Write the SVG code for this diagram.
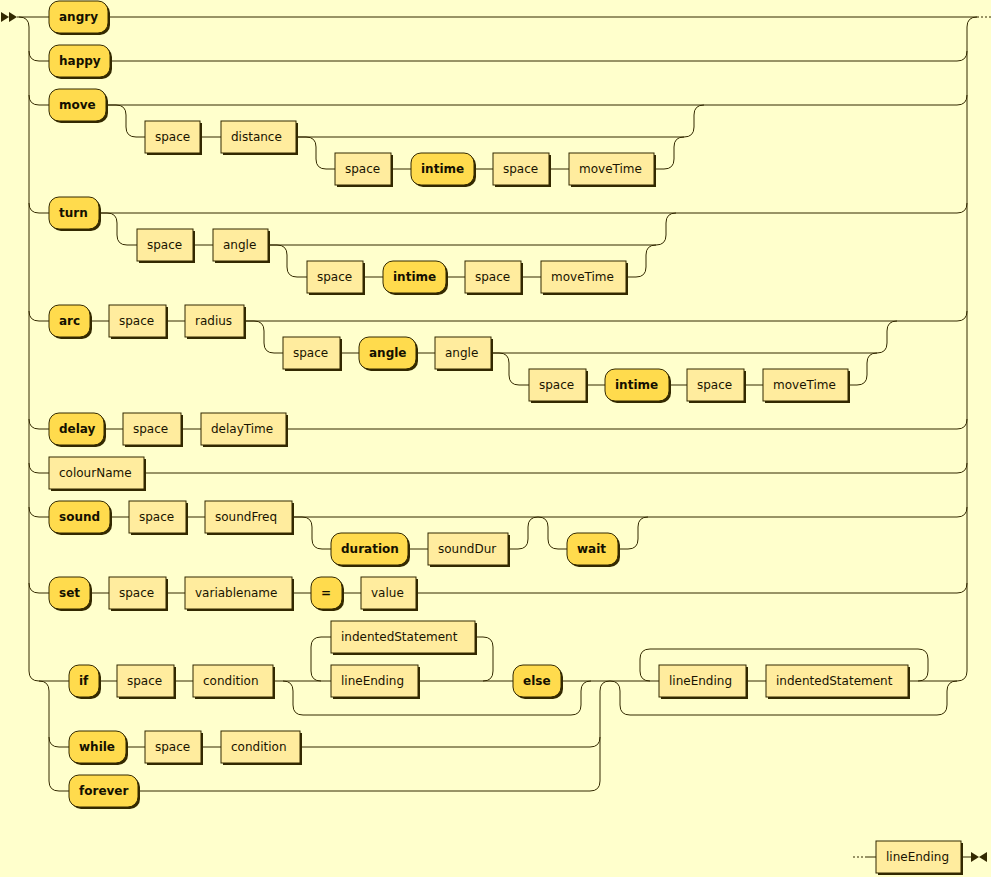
<svg xmlns="http://www.w3.org/2000/svg" width="991" height="877" viewBox="0 0 991 877">
<style>
.bg{fill:#FFFFCC}
.ln{fill:none;stroke:#332900;stroke-width:1}
.dash{fill:none;stroke:#332900;stroke-width:1;stroke-dasharray:2 2}
.sh{fill:#332900}
.t{fill:#FFDB4D;stroke:#332900;stroke-width:1}
.n{fill:#FFEC9E;stroke:#332900;stroke-width:1}
.tt{font-family:"DejaVu Sans",Verdana,sans-serif;font-size:12px;font-weight:bold;fill:#141000}
.nt{font-family:"DejaVu Sans",Verdana,sans-serif;font-size:12px;fill:#1A1400}
.mk{fill:#332900}
</style>
<rect class="bg" x="0" y="0" width="991" height="877"/>
<g id="connectors">
<polygon class="mk" points="9 17 1 12 1 22"/>
<polygon class="mk" points="17 17 9 12 9 22"/>
<path class="ln" d="M17 17 H49 M19 17 q10 0 10 10 V671 q0 10 10 10 h30"/>
<path class="ln" d="M29 51 q0 10 10 10 h10 M29 95 q0 10 10 10 h10 M29 203 q0 10 10 10 h10 M29 311 q0 10 10 10 h10 M29 419 q0 10 10 10 h10 M29 463 q0 10 10 10 h10 M29 507 q0 10 10 10 h10 M29 583 q0 10 10 10 h10"/>
<path class="ln" d="M108 17 H977 M967 671 V27 q0 -10 10 -10"/>
<path class="dash" d="M977 17 H991"/>
<path class="ln" d="M957 61 q10 0 10 -10 M957 105 q10 0 10 -10 M957 213 q10 0 10 -10 M957 321 q10 0 10 -10 M957 429 q10 0 10 -10 M957 473 q10 0 10 -10 M957 517 q10 0 10 -10 M957 593 q10 0 10 -10 M957 681 q10 0 10 -10"/>
<path class="ln" d="M110 61 H957"/>
<path class="ln" d="M106 105 H957 M106 105 h10 q10 0 10 10 v12 q0 10 10 10 h9 M200 137 h21 M296 137 H684 q10 0 10 -10 v-12 q0 -10 10 -10 M296 137 h10 q10 0 10 10 v12 q0 10 10 10 h9 M391 169 h20 M474 169 h19 M549 169 h20 M654 169 h10 q10 0 10 -10 v-12 q0 -10 10 -10"/>
<path class="ln" d="M99 213 H957 M99 213 h8 q10 0 10 10 v12 q0 10 10 10 h10 M193 245 h20 M268 245 H656 q10 0 10 -10 v-12 q0 -10 10 -10 M268 245 h9 q10 0 10 10 v12 q0 10 10 10 h10 M363 277 h20 M446 277 h19 M521 277 h20 M626 277 h10 q10 0 10 -10 v-12 q0 -10 10 -10"/>
<path class="ln" d="M90 321 h19 M166 321 h19 M244 321 H957 M244 321 h10 q10 0 10 10 v12 q0 10 10 10 h9 M340 353 h19 M416 353 h19 M491 353 H877 q10 0 10 -10 v-12 q0 -10 10 -10 M491 353 h8 q10 0 10 10 v12 q0 10 10 10 h10 M586 385 h19 M669 385 h18 M744 385 h19 M848 385 h9 q10 0 10 -10 v-12 q0 -10 10 -10"/>
<path class="ln" d="M104 429 h19 M181 429 h20 M286 429 H957"/>
<path class="ln" d="M144 473 H957"/>
<path class="ln" d="M110 517 h19 M186 517 h19 M292 517 H957 M292 517 h10 q10 0 10 10 v12 q0 10 10 10 h9 M408 549 h20 M508 549 h10 q10 0 10 -10 v-12 q0 -10 10 -10 M538 517 q10 0 10 10 v12 q0 10 10 10 h9 M618 549 h10 q10 0 10 -10 v-12 q0 -10 10 -10"/>
<path class="ln" d="M90 593 h19 M166 593 h19 M292 593 h19 M342 593 h19 M416 593 H957"/>
<path class="ln" d="M39 681 q10 0 10 10 V781 q0 10 10 10 h10 M49 737 q0 10 10 10 h10"/>
<path class="ln" d="M99 681 h18 M174 681 h19 M273 681 H331 M321 681 q-10 0 -10 -10 v-24 q0 -10 10 -10 h10 M418 681 H513 M475 637 h8 q10 0 10 10 v24 q0 10 -10 10 M561 681 H659 M283 681 q10 0 10 10 v14 q0 10 10 10 H571 q10 0 10 -10 v-14 q0 -10 10 -10"/>
<path class="ln" d="M126 747 h19 M201 747 h20 M300 747 H590 q10 0 10 -10 M138 791 H590 q10 0 10 -10 V691 q0 -10 10 -10"/>
<path class="ln" d="M610 681 q10 0 10 10 v14 q0 10 10 10 H937 q10 0 10 -10 v-14 q0 -10 10 -10 M746 681 h20 M908 681 H957 M918 681 q10 0 10 -10 v-12 q0 -10 -10 -10 H650 q-10 0 -10 10 v12 q0 10 10 10"/>
<path class="dash" d="M853 857 h13"/>
<path class="ln" d="M866 857 h10 M961 857 h10"/>
<polygon class="mk" points="979 857 971 852 971 862"/>
<polygon class="mk" points="979 857 987 852 987 862"/>
</g>
<g id="n1"><rect class="sh" x="51" y="3" width="59" height="32" rx="10"/><rect class="t" x="49" y="1" width="59" height="32" rx="10"/><text class="tt" x="59" y="21">angry</text></g>
<g id="n2"><rect class="sh" x="51" y="47" width="61" height="32" rx="10"/><rect class="t" x="49" y="45" width="61" height="32" rx="10"/><text class="tt" x="59" y="65">happy</text></g>
<g id="n3"><rect class="sh" x="51" y="91" width="57" height="32" rx="10"/><rect class="t" x="49" y="89" width="57" height="32" rx="10"/><text class="tt" x="59" y="109">move</text></g>
<g id="n4"><rect class="sh" x="147" y="123" width="55" height="32"/><rect class="n" x="145" y="121" width="55" height="32"/><text class="nt" x="155" y="141">space</text></g>
<g id="n5"><rect class="sh" x="223" y="123" width="75" height="32"/><rect class="n" x="221" y="121" width="75" height="32"/><text class="nt" x="231" y="141">distance</text></g>
<g id="n6"><rect class="sh" x="337" y="155" width="56" height="32"/><rect class="n" x="335" y="153" width="56" height="32"/><text class="nt" x="345" y="173">space</text></g>
<g id="n7"><rect class="sh" x="413" y="155" width="63" height="32" rx="10"/><rect class="t" x="411" y="153" width="63" height="32" rx="10"/><text class="tt" x="421" y="173">intime</text></g>
<g id="n8"><rect class="sh" x="495" y="155" width="56" height="32"/><rect class="n" x="493" y="153" width="56" height="32"/><text class="nt" x="503" y="173">space</text></g>
<g id="n9"><rect class="sh" x="571" y="155" width="85" height="32"/><rect class="n" x="569" y="153" width="85" height="32"/><text class="nt" x="579" y="173">moveTime</text></g>
<g id="n10"><rect class="sh" x="51" y="199" width="50" height="32" rx="10"/><rect class="t" x="49" y="197" width="50" height="32" rx="10"/><text class="tt" x="59" y="217">turn</text></g>
<g id="n11"><rect class="sh" x="139" y="231" width="56" height="32"/><rect class="n" x="137" y="229" width="56" height="32"/><text class="nt" x="147" y="249">space</text></g>
<g id="n12"><rect class="sh" x="215" y="231" width="55" height="32"/><rect class="n" x="213" y="229" width="55" height="32"/><text class="nt" x="223" y="249">angle</text></g>
<g id="n13"><rect class="sh" x="309" y="263" width="56" height="32"/><rect class="n" x="307" y="261" width="56" height="32"/><text class="nt" x="317" y="281">space</text></g>
<g id="n14"><rect class="sh" x="385" y="263" width="63" height="32" rx="10"/><rect class="t" x="383" y="261" width="63" height="32" rx="10"/><text class="tt" x="393" y="281">intime</text></g>
<g id="n15"><rect class="sh" x="467" y="263" width="56" height="32"/><rect class="n" x="465" y="261" width="56" height="32"/><text class="nt" x="475" y="281">space</text></g>
<g id="n16"><rect class="sh" x="543" y="263" width="85" height="32"/><rect class="n" x="541" y="261" width="85" height="32"/><text class="nt" x="551" y="281">moveTime</text></g>
<g id="n17"><rect class="sh" x="51" y="307" width="41" height="32" rx="10"/><rect class="t" x="49" y="305" width="41" height="32" rx="10"/><text class="tt" x="59" y="325">arc</text></g>
<g id="n18"><rect class="sh" x="111" y="307" width="57" height="32"/><rect class="n" x="109" y="305" width="57" height="32"/><text class="nt" x="119" y="325">space</text></g>
<g id="n19"><rect class="sh" x="187" y="307" width="59" height="32"/><rect class="n" x="185" y="305" width="59" height="32"/><text class="nt" x="195" y="325">radius</text></g>
<g id="n20"><rect class="sh" x="285" y="339" width="57" height="32"/><rect class="n" x="283" y="337" width="57" height="32"/><text class="nt" x="293" y="357">space</text></g>
<g id="n21"><rect class="sh" x="361" y="339" width="57" height="32" rx="10"/><rect class="t" x="359" y="337" width="57" height="32" rx="10"/><text class="tt" x="369" y="357">angle</text></g>
<g id="n22"><rect class="sh" x="437" y="339" width="56" height="32"/><rect class="n" x="435" y="337" width="56" height="32"/><text class="nt" x="445" y="357">angle</text></g>
<g id="n23"><rect class="sh" x="531" y="371" width="57" height="32"/><rect class="n" x="529" y="369" width="57" height="32"/><text class="nt" x="539" y="389">space</text></g>
<g id="n24"><rect class="sh" x="607" y="371" width="64" height="32" rx="10"/><rect class="t" x="605" y="369" width="64" height="32" rx="10"/><text class="tt" x="615" y="389">intime</text></g>
<g id="n25"><rect class="sh" x="689" y="371" width="57" height="32"/><rect class="n" x="687" y="369" width="57" height="32"/><text class="nt" x="697" y="389">space</text></g>
<g id="n26"><rect class="sh" x="765" y="371" width="85" height="32"/><rect class="n" x="763" y="369" width="85" height="32"/><text class="nt" x="773" y="389">moveTime</text></g>
<g id="n27"><rect class="sh" x="51" y="415" width="55" height="32" rx="10"/><rect class="t" x="49" y="413" width="55" height="32" rx="10"/><text class="tt" x="59" y="433">delay</text></g>
<g id="n28"><rect class="sh" x="125" y="415" width="58" height="32"/><rect class="n" x="123" y="413" width="58" height="32"/><text class="nt" x="133" y="433">space</text></g>
<g id="n29"><rect class="sh" x="203" y="415" width="85" height="32"/><rect class="n" x="201" y="413" width="85" height="32"/><text class="nt" x="211" y="433">delayTime</text></g>
<g id="n30"><rect class="sh" x="51" y="459" width="95" height="32"/><rect class="n" x="49" y="457" width="95" height="32"/><text class="nt" x="59" y="477">colourName</text></g>
<g id="n31"><rect class="sh" x="51" y="503" width="61" height="32" rx="10"/><rect class="t" x="49" y="501" width="61" height="32" rx="10"/><text class="tt" x="59" y="521">sound</text></g>
<g id="n32"><rect class="sh" x="131" y="503" width="57" height="32"/><rect class="n" x="129" y="501" width="57" height="32"/><text class="nt" x="139" y="521">space</text></g>
<g id="n33"><rect class="sh" x="207" y="503" width="87" height="32"/><rect class="n" x="205" y="501" width="87" height="32"/><text class="nt" x="215" y="521">soundFreq</text></g>
<g id="n34"><rect class="sh" x="333" y="535" width="77" height="32" rx="10"/><rect class="t" x="331" y="533" width="77" height="32" rx="10"/><text class="tt" x="341" y="553">duration</text></g>
<g id="n35"><rect class="sh" x="430" y="535" width="80" height="32"/><rect class="n" x="428" y="533" width="80" height="32"/><text class="nt" x="438" y="553">soundDur</text></g>
<g id="n36"><rect class="sh" x="569" y="535" width="51" height="32" rx="10"/><rect class="t" x="567" y="533" width="51" height="32" rx="10"/><text class="tt" x="577" y="553">wait</text></g>
<g id="n37"><rect class="sh" x="51" y="579" width="41" height="32" rx="10"/><rect class="t" x="49" y="577" width="41" height="32" rx="10"/><text class="tt" x="59" y="597">set</text></g>
<g id="n38"><rect class="sh" x="111" y="579" width="57" height="32"/><rect class="n" x="109" y="577" width="57" height="32"/><text class="nt" x="119" y="597">space</text></g>
<g id="n39"><rect class="sh" x="187" y="579" width="107" height="32"/><rect class="n" x="185" y="577" width="107" height="32"/><text class="nt" x="195" y="597">variablename</text></g>
<g id="n40"><rect class="sh" x="313" y="579" width="31" height="32" rx="10"/><rect class="t" x="311" y="577" width="31" height="32" rx="10"/><text class="tt" x="321" y="597">=</text></g>
<g id="n41"><rect class="sh" x="363" y="579" width="55" height="32"/><rect class="n" x="361" y="577" width="55" height="32"/><text class="nt" x="371" y="597">value</text></g>
<g id="n42"><rect class="sh" x="71" y="667" width="30" height="32" rx="10"/><rect class="t" x="69" y="665" width="30" height="32" rx="10"/><text class="tt" x="79" y="685">if</text></g>
<g id="n43"><rect class="sh" x="119" y="667" width="57" height="32"/><rect class="n" x="117" y="665" width="57" height="32"/><text class="nt" x="127" y="685">space</text></g>
<g id="n44"><rect class="sh" x="195" y="667" width="80" height="32"/><rect class="n" x="193" y="665" width="80" height="32"/><text class="nt" x="203" y="685">condition</text></g>
<g id="n45"><rect class="sh" x="333" y="623" width="144" height="32"/><rect class="n" x="331" y="621" width="144" height="32"/><text class="nt" x="341" y="641">indentedStatement</text></g>
<g id="n46"><rect class="sh" x="333" y="667" width="87" height="32"/><rect class="n" x="331" y="665" width="87" height="32"/><text class="nt" x="341" y="685">lineEnding</text></g>
<g id="n47"><rect class="sh" x="515" y="667" width="48" height="32" rx="10"/><rect class="t" x="513" y="665" width="48" height="32" rx="10"/><text class="tt" x="523" y="685">else</text></g>
<g id="n48"><rect class="sh" x="661" y="667" width="87" height="32"/><rect class="n" x="659" y="665" width="87" height="32"/><text class="nt" x="669" y="685">lineEnding</text></g>
<g id="n49"><rect class="sh" x="768" y="667" width="142" height="32"/><rect class="n" x="766" y="665" width="142" height="32"/><text class="nt" x="776" y="685">indentedStatement</text></g>
<g id="n50"><rect class="sh" x="71" y="733" width="57" height="32" rx="10"/><rect class="t" x="69" y="731" width="57" height="32" rx="10"/><text class="tt" x="79" y="751">while</text></g>
<g id="n51"><rect class="sh" x="147" y="733" width="56" height="32"/><rect class="n" x="145" y="731" width="56" height="32"/><text class="nt" x="155" y="751">space</text></g>
<g id="n52"><rect class="sh" x="223" y="733" width="79" height="32"/><rect class="n" x="221" y="731" width="79" height="32"/><text class="nt" x="231" y="751">condition</text></g>
<g id="n53"><rect class="sh" x="71" y="777" width="69" height="32" rx="10"/><rect class="t" x="69" y="775" width="69" height="32" rx="10"/><text class="tt" x="79" y="795">forever</text></g>
<g id="n54"><rect class="sh" x="878" y="843" width="85" height="32"/><rect class="n" x="876" y="841" width="85" height="32"/><text class="nt" x="886" y="861">lineEnding</text></g>
</svg>
